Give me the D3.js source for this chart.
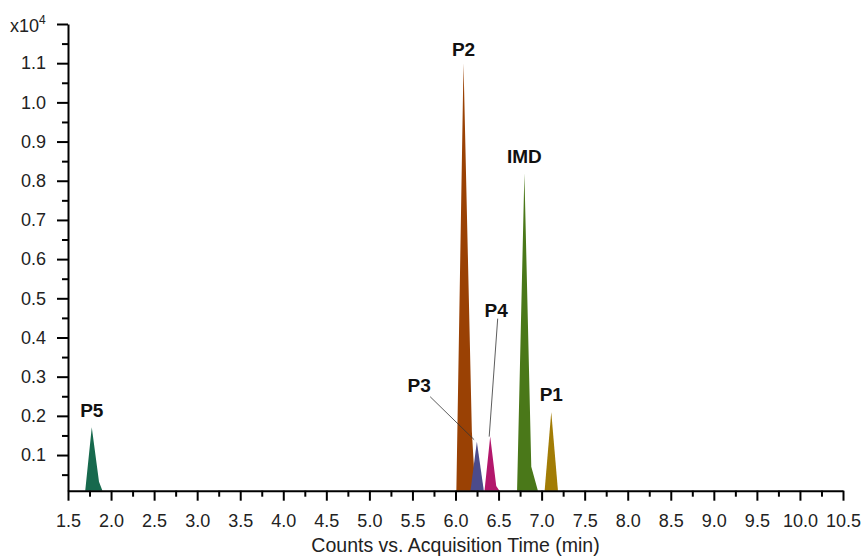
<!DOCTYPE html>
<html>
<head>
<meta charset="utf-8">
<script src="https://cdn.jsdelivr.net/npm/d3@7"></script>
<style>
  body { margin: 0; background: #fff; }
  svg { display: block; font-family: Arial, "Liberation Sans", sans-serif; }
</style>
</head>
<body>
<div id="chart"></div>
<script>
// peak names, in draw order
var peakNames = ["P5", "P2", "P3", "P4", "IMD", "P1"];
// [time (min), counts x10^4]
var p5Vals  = [[1.70, 0], [1.776, 0.171], [1.86, 0.032], [1.90, 0]];
var p2Vals  = [[6.01, 0], [6.093, 1.10], [6.19, 0.16], [6.23, 0]];
var p3Vals  = [[6.174, 0], [6.248, 0.134], [6.329, 0]];
var p4Vals  = [[6.337, 0], [6.403, 0.147], [6.473, 0.021], [6.51, 0]];
var imdVals = [[6.715, 0], [6.80, 0.819], [6.88, 0.07], [6.957, 0]];
var p1Vals  = [[7.035, 0], [7.112, 0.21], [7.19, 0]];
var xTicks = d3.range(1.5, 10.51, 0.5);
var xMinor = d3.range(1.75, 10.5, 0.5);
var yTicks = [0.1, 0.2, 0.3, 0.4, 0.5, 0.6, 0.7, 0.8, 0.9, 1.0, 1.1, 1.2];
var yMinor = d3.range(0.05, 1.2, 0.1);

var colors = {P5: "#17694d", P2: "#9a4104", P3: "#4c4b8b", P4: "#b3176c", IMD: "#4a7819", P1: "#a27c05"};
var series = [p5Vals, p2Vals, p3Vals, p4Vals, imdVals, p1Vals];

var width = 866, height = 556;
var margin = {top: 24, right: 23, bottom: 65.3, left: 68};

var svg = d3.select("#chart").append("svg")
    .attr("width", width)
    .attr("height", height);

var x = d3.scaleLinear().domain([1.5, 10.5]).range([margin.left, width - margin.right]);
var y = d3.scaleLinear().domain([0.009, 1.2]).range([height - margin.bottom, margin.top]).clamp(true);

var area = d3.area()
    .x(function(d) { return x(d[0]); })
    .y0(y(0.009))
    .y1(function(d) { return y(d[1]); });

svg.selectAll(".peak")
    .data(series)
  .enter().append("path")
    .attr("class", "peak")
    .attr("d", area)
    .attr("fill", function(d, i) { return colors[peakNames[i]]; });

// axes
var xAxis = svg.append("g")
    .attr("transform", "translate(0," + y(0.009) + ")")
    .call(d3.axisBottom(x).tickValues(xTicks).tickSize(10).tickSizeOuter(0)
      .tickFormat(d3.format(".1f")));
xAxis.selectAll(".tick text").attr("dy", "1.27em");

svg.append("g")
    .attr("transform", "translate(0," + y(0.009) + ")")
    .call(d3.axisBottom(x).tickValues(xMinor).tickSize(6).tickFormat(""))
    .select(".domain").remove();

var yAxis = svg.append("g")
    .attr("transform", "translate(" + x(1.5) + ",0)")
    .call(d3.axisLeft(y).tickValues(yTicks).tickSize(11).tickSizeOuter(0).tickPadding(11)
      .tickFormat(function(d) { return d >= 1.15 ? "" : d3.format(".1f")(d); }));

svg.append("g")
    .attr("transform", "translate(" + x(1.5) + ",0)")
    .call(d3.axisLeft(y).tickValues(yMinor).tickSize(6).tickFormat(""))
    .select(".domain").remove();

svg.selectAll(".domain, .tick line")
    .attr("stroke", "#000")
    .attr("stroke-width", 2);
svg.selectAll(".tick text")
    .attr("fill", "#222")
    .style("font-size", "18px");

// multiplier label at the top tick
var mult = svg.append("text")
    .attr("x", 10)
    .attr("y", y(1.2) + 8)
    .attr("fill", "#222")
    .style("font-size", "18px");
mult.append("tspan").text("x10");
mult.append("tspan").attr("dy", -8).style("font-size", "12px").text("4");

svg.append("text")
    .attr("x", (x.range()[0] + x.range()[1]) / 2)
    .attr("y", 552)
    .attr("text-anchor", "middle")
    .attr("fill", "#222")
    .style("font-size", "19.5px")
    .text("Counts vs. Acquisition Time (min)");

// peak labels (offsets in px from the apex; P3/P4 use leader lines)
var labels = [
  {name: "P5", t: 1.776, v: 0.171, dx: 0, dy: -10},
  {name: "P2", t: 6.093, v: 1.10, dx: 0, dy: -7},
  {name: "IMD", t: 6.80, v: 0.819, dx: 0, dy: -10},
  {name: "P1", t: 7.112, v: 0.21, dx: 0, dy: -11},
  {name: "P3", t: 6.24, v: 0.134, dx: -57, dy: -50, lx: -46, ly: -45, ex: -2, ey: -2},
  {name: "P4", t: 6.403, v: 0.147, dx: 6, dy: -120, lx: 7.5, ly: -118, ex: -1, ey: 0}
];

labels.forEach(function(l) {
  var px = x(l.t), py = y(l.v);
  if (l.lx !== undefined) {
    svg.append("line")
      .attr("x1", px + l.lx).attr("y1", py + l.ly)
      .attr("x2", px + l.ex).attr("y2", py + l.ey)
      .attr("stroke", "#333")
      .attr("stroke-width", 0.8);
  }
  svg.append("text")
    .attr("x", px + l.dx)
    .attr("y", py + l.dy)
    .attr("text-anchor", "middle")
    .attr("fill", "#111")
    .style("font-size", "19px")
    .style("font-weight", "bold")
    .text(l.name);
});
</script>
</body>
</html>
